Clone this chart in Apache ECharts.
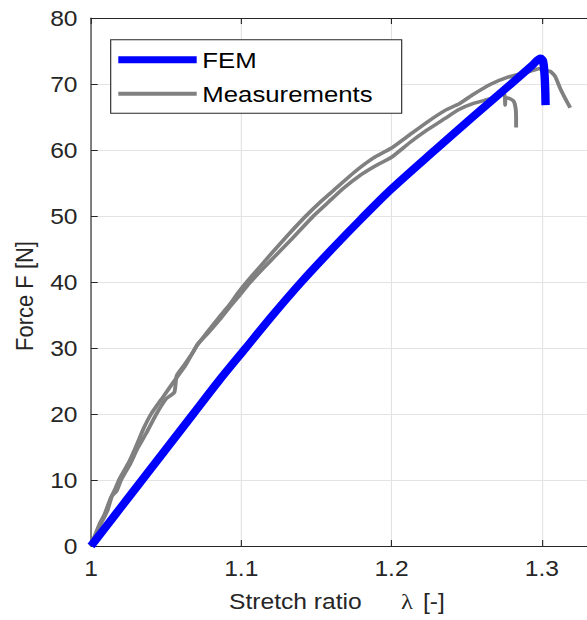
<!DOCTYPE html>
<html><head><meta charset="utf-8">
<script src="https://cdn.jsdelivr.net/npm/echarts@6/dist/echarts.min.js"></script>
<style>
html,body{margin:0;padding:0;background:#fff;overflow:hidden;}
#wrap{width:587px;height:620px;overflow:hidden;position:relative;background:#fff;}
#chart{width:524px;height:620px;transform:scaleX(1.12);transform-origin:0 0;}
</style></head><body>
<div id="wrap"><div id="chart"></div></div>
<script>
// ---- data ----
const femLambda = [1.000,1.017,1.034,1.051,1.068,1.085,1.103,1.121,1.140,1.160,1.180,1.200,1.229,1.254,1.2795,1.2935,1.2992,1.3008,1.3018,1.3023,1.3025];
const femForce  = [0,5,10,15,20,25,30,35,40,44.9,49.6,54.1,60,65,70,72.8,73.9,73.5,71.5,69,66.8];

const meas1Lambda = [1.000,1.003,1.006,1.009,1.013,1.016,1.019,1.025,1.030,1.035,1.040,1.048,1.056,1.063,1.070,1.077,1.085,1.092,1.098,1.104,1.112,1.120,1.131,1.143,1.153,1.1635,1.175,1.188,1.200,1.212,1.2235,1.2357,1.245,1.2535,1.2663,1.277,1.287,1.2948,1.298,1.302,1.3058,1.309,1.3123,1.3156,1.3189];
const meas1Force  = [0,1.8,3.5,4.8,7.2,8.6,10.2,12.6,15.1,17.8,20.0,22.6,25.2,27.4,30.2,32.3,34.6,36.5,38.4,40.1,42.2,44.3,47.1,50,52.2,54.3,56.6,58.8,60.3,62.3,64.2,66.0,67.0,68.3,70,71.0,71.6,72.1,72.3,72.1,71.9,71.1,69.3,67.8,66.4];

const meas2Lambda = [1.000,1.004,1.008,1.011,1.014,1.017,1.020,1.026,1.031,1.037,1.043,1.050,1.0555,1.057,1.062,1.068,1.071,1.078,1.086,1.093,1.099,1.105,1.113,1.122,1.134,1.148,1.158,1.168,1.180,1.190,1.200,1.212,1.2235,1.2357,1.2445,1.255,1.2663,1.2715,1.2752,1.2756,1.2760,1.2795,1.2815,1.2826,1.2829,1.2829];
const meas2Force  = [0,2.2,4.0,5.4,7.6,8.3,10.0,12.4,14.8,17.2,19.8,22.3,23.3,25.8,27.4,29.4,30.6,32.3,34.4,36.4,38.0,39.7,41.7,43.8,46.6,50,52.1,54.2,56.3,57.7,58.9,61.1,63.0,64.8,66.1,67.1,67.8,68.3,68.4,66.8,67.9,67.7,67.3,66.3,65.0,63.4];

const xTicks = [1, 1.1, 1.2, 1.3];
const xTickLabels = ['1', '1.1', '1.2', '1.3'];
const yTicks = [0, 10, 20, 30, 40, 50, 60, 70, 80];

// ---- layout (target pixels are divided by horizontal stretch S) ----
const S = 1.12;
const FONT = "'Liberation Sans', Arial, Helvetica, sans-serif";
const AX = '#262626';

const zip = (a, b) => a.map((v, i) => [v, b[i]]);

const chart = echarts.init(document.getElementById('chart'), null, {renderer: 'svg', width: 524, height: 620});

function xLabel(v) {
  for (let i = 0; i < xTicks.length; i++) if (Math.abs(v - xTicks[i]) < 1e-6) return xTickLabels[i];
  return '';
}
function yLabel(v) {
  return yTicks.some(t => Math.abs(t - v) < 1e-6) ? String(Math.round(v)) : '';
}

const xCommon = {
  type: 'value', min: 1, max: 1.33, interval: 0.1,
  axisLine: {show: true, onZero: false, lineStyle: {color: AX, width: 1}},
  axisTick: {show: true, inside: true, length: 6, lineStyle: {color: AX, width: 1}},
};

chart.setOption({
  animation: false,
  backgroundColor: '#fff',
  grid: {left: 91 / S, top: 18, width: 0.33 * 1523 / S, height: 528, containLabel: false},
  xAxis: [
    Object.assign({}, xCommon, {
      position: 'bottom',
      axisLabel: {formatter: xLabel, color: AX, fontSize: 22, fontFamily: FONT, margin: 11, showMaxLabel: false},
      splitLine: {show: true, lineStyle: {color: '#e3e3e3', width: 1}}
    }),
    Object.assign({}, xCommon, {
      position: 'top',
      axisLabel: {show: false},
      splitLine: {show: false}
    })
  ],
  yAxis: {
    type: 'value', min: 0, max: 80, interval: 10,
    axisLine: {show: true, onZero: false, lineStyle: {color: AX, width: 1}},
    axisTick: {show: true, inside: true, length: 6, lineStyle: {color: AX, width: 1}},
    axisLabel: {formatter: yLabel, color: AX, fontSize: 22, fontFamily: FONT, margin: 12},
    splitLine: {show: true, lineStyle: {color: '#e3e3e3', width: 1}}
  },
  legend: [
    {data: [{name: 'FEM', icon: 'rect'}], selectedMode: false, orient: 'vertical',
     left: 118.3 / S, top: 48.2, padding: 0, itemWidth: 78.4 / S, itemHeight: 7,
     textStyle: {color: '#000', fontSize: 23, fontFamily: FONT}},
    {data: [{name: 'Measurements', icon: 'rect'}], selectedMode: false, orient: 'vertical',
     left: 118.3 / S, top: 82.2, padding: 0, itemWidth: 78.4 / S, itemHeight: 4,
     textStyle: {color: '#000', fontSize: 23, fontFamily: FONT}}
  ],
  graphic: [
    {type: 'rect', z: 3, shape: {x: 110.7 / S, y: 39.7, width: 291 / S, height: 73.6},
     style: {fill: '#fff', stroke: AX, lineWidth: 1}},
    {type: 'text', z: 3, x: 229 / S, y: 601, style: {text: 'Stretch ratio', fill: AX, font: '22px ' + FONT, textAlign: 'left', textVerticalAlign: 'middle'}},
    {type: 'text', z: 3, x: 401 / S, y: 601, style: {text: 'λ', fill: AX, font: '22px "Liberation Serif", "DejaVu Serif", serif', textAlign: 'left', textVerticalAlign: 'middle'}},
    {type: 'text', z: 3, x: 423 / S, y: 601, style: {text: '[-]', fill: AX, font: '22px ' + FONT, textAlign: 'left', textVerticalAlign: 'middle'}},
    {type: 'text', z: 3, x: 25 / S, y: 296, rotation: Math.PI / 2, style: {text: 'Force F [N]', fill: AX, font: '22px ' + FONT, textAlign: 'center', textVerticalAlign: 'middle'}}
  ],
  series: [
    {name: 'Measurements', type: 'line', data: zip(meas1Lambda, meas1Force), showSymbol: false, clip: false, smooth: 0.15,
     itemStyle: {color: '#808080'}, lineStyle: {color: '#808080', width: 3.5, join: 'round'}, z: 2},
    {name: 'Measurements', type: 'line', data: zip(meas2Lambda, meas2Force), showSymbol: false, clip: false, smooth: 0.15,
     itemStyle: {color: '#808080'}, lineStyle: {color: '#808080', width: 3.5, join: 'round'}, z: 2},
    {name: 'FEM', type: 'line', data: zip(femLambda, femForce), showSymbol: false, clip: false, smooth: 0.3,
     itemStyle: {color: '#0000ff'}, lineStyle: {color: '#0000ff', width: 7.5, join: 'round', cap: 'butt'}, z: 3}
  ]
});
</script>
</body></html>
